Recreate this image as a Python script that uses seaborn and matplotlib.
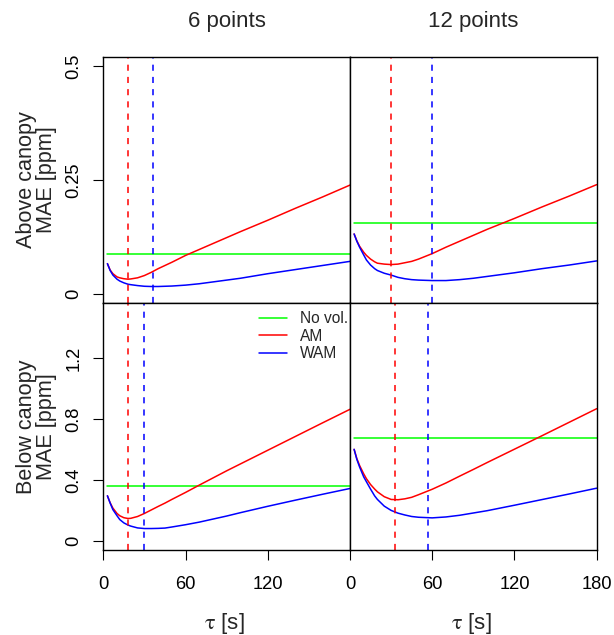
import matplotlib
matplotlib.use("Agg")
import matplotlib.pyplot as plt
from matplotlib.lines import Line2D
import numpy as np
import pandas as pd
import seaborn as sns

# ---------------- data ----------------
tau = [3, 5, 7, 10, 12, 15, 18, 20, 25, 30, 35, 40, 45, 50, 60, 70, 80, 90, 100, 120, 140, 160, 180]

# Above canopy, 6 points
above6_am = [0.067, 0.053, 0.045, 0.038, 0.036, 0.034, 0.033, 0.0335, 0.036, 0.041, 0.048, 0.056, 0.063,
             0.070, 0.085, 0.098, 0.111, 0.124, 0.137, 0.162, 0.188, 0.213, 0.239]
above6_wam = [0.067, 0.052, 0.042, 0.033, 0.029, 0.025, 0.022, 0.021, 0.019, 0.0175, 0.017, 0.017, 0.0175,
              0.018, 0.020, 0.023, 0.027, 0.031, 0.035, 0.045, 0.054, 0.063, 0.072]
above6_novol = 0.089
above6_opt = [18, 36]          # AM, WAM optimal tau

# Above canopy, 12 points
above12_am = [0.132, 0.117, 0.105, 0.092, 0.085, 0.077, 0.071, 0.068, 0.066, 0.065, 0.066, 0.069, 0.072,
              0.077, 0.089, 0.103, 0.116, 0.129, 0.142, 0.166, 0.191, 0.215, 0.240]
above12_wam = [0.132, 0.116, 0.103, 0.086, 0.075, 0.064, 0.056, 0.052, 0.046, 0.042, 0.037, 0.034, 0.032,
               0.031, 0.030, 0.030, 0.032, 0.035, 0.039, 0.047, 0.056, 0.064, 0.073]
above12_novol = 0.155
above12_opt = [30, 60]

# Below canopy, 6 points
below6_am = [0.296, 0.250, 0.215, 0.180, 0.165, 0.152, 0.147, 0.148, 0.160, 0.180, 0.203, 0.226, 0.248,
             0.272, 0.318, 0.366, 0.413, 0.460, 0.505, 0.595, 0.685, 0.775, 0.864]
below6_wam = [0.296, 0.248, 0.205, 0.165, 0.140, 0.118, 0.104, 0.097, 0.085, 0.081, 0.081, 0.082, 0.084,
              0.091, 0.106, 0.123, 0.143, 0.163, 0.185, 0.227, 0.267, 0.306, 0.344]
below6_novol = 0.361
below6_opt = [18, 30]

# Below canopy, 12 points
below12_am = [0.601, 0.540, 0.495, 0.440, 0.408, 0.370, 0.340, 0.322, 0.290, 0.272, 0.270, 0.276, 0.286,
              0.303, 0.339, 0.380, 0.425, 0.469, 0.514, 0.602, 0.690, 0.779, 0.868]
below12_wam = [0.601, 0.535, 0.485, 0.420, 0.388, 0.340, 0.295, 0.272, 0.228, 0.200, 0.182, 0.170, 0.160,
               0.155, 0.151, 0.157, 0.168, 0.183, 0.198, 0.234, 0.271, 0.308, 0.346]
below12_novol = 0.675
below12_opt = [33, 57]

col_titles = ["6 points", "12 points"]
row_titles = ["Above canopy\nMAE [ppm]", "Below canopy\nMAE [ppm]"]
methods = ["No vol.", "AM", "WAM"]
colors = {"No vol.": "#00FF00", "AM": "#FF0000", "WAM": "#0000FF"}

top_yticks = [0, 0.25, 0.5]
top_ylabels = ["0", "0.25", "0.5"]
bot_yticks = [0, 0.4, 0.8, 1.2]
bot_ylabels = ["0", "0.4", "0.8", "1.2"]
left_xticks = [0, 60, 120]
right_xticks = [0, 60, 120, 180]

panels = [
    [(above6_am, above6_wam, above6_novol, above6_opt), (above12_am, above12_wam, above12_novol, above12_opt)],
    [(below6_am, below6_wam, below6_novol, below6_opt), (below12_am, below12_wam, below12_novol, below12_opt)],
]

# ---------------- style ----------------
sns.set_style("white")
plt.rcParams["font.family"] = ["Liberation Sans", "DejaVu Sans"]
plt.rcParams["mathtext.fontset"] = "stix"

W, H = 614, 635
fig = plt.figure(figsize=(W / 100, H / 100), dpi=100)

def fx(px):
    return px / W

def fy(py):
    return 1 - py / H

xl = [103.3, 350.0]
wpx = 246.7
yt = [56.7, 303.3]
hpx = 246.7

ylims = [(-0.02, 0.52), (-0.06, 1.56)]

axes = [[None, None], [None, None]]
for r in range(2):
    for c in range(2):
        ax = fig.add_axes([fx(xl[c]), fy(yt[r] + hpx), wpx / W, hpx / H])
        axes[r][c] = ax
        am, wam, novol, opt = panels[r][c]
        df = pd.DataFrame({
            "tau": tau * 3,
            "mae": [novol] * len(tau) + list(am) + list(wam),
            "method": ["No vol."] * len(tau) + ["AM"] * len(tau) + ["WAM"] * len(tau),
        })
        sns.lineplot(data=df, x="tau", y="mae", hue="method", hue_order=methods,
                     palette=colors, estimator=None, sort=False, legend=False,
                     linewidth=1.1, ax=ax)
        ax.axvline(opt[0], color=colors["AM"], linestyle=(0, (4, 4)), linewidth=1.1)
        ax.axvline(opt[1], color=colors["WAM"], linestyle=(0, (4, 4)), linewidth=1.1)
        ax.set_xlim(0, 180)
        ax.set_ylim(*ylims[r])
        ax.set_xlabel("")
        ax.set_ylabel("")
        for sp in ax.spines.values():
            sp.set_visible(True)
            sp.set_color("black")
            sp.set_linewidth(1.0)
        ax.tick_params(direction="out", length=7.2, width=0.8, color="black",
                       labelsize=13.2, labelcolor="black")
        # y axis
        if c == 0:
            ax.set_yticks(top_yticks if r == 0 else bot_yticks)
            ax.set_yticklabels(top_ylabels if r == 0 else bot_ylabels, rotation=90, va="center")
            ax.tick_params(axis="y", pad=8, left=True)
        else:
            ax.set_yticks([])
        # x axis
        if r == 1:
            ax.set_xticks(left_xticks if c == 0 else right_xticks)
            ax.set_xticklabels([str(v) for v in (left_xticks if c == 0 else right_xticks)])
            ax.tick_params(axis="x", pad=11.5, bottom=True)
        else:
            ax.set_xticks([])

# Titles
for c, t in enumerate(col_titles):
    fig.text(fx(xl[c] + wpx / 2), fy(22), t, ha="center", va="center", fontsize=16)
# Row labels
for r, t in enumerate(row_titles):
    fig.text(fx(36.5), fy(yt[r] + hpx / 2), t, ha="center", va="center", rotation=90,
             fontsize=15.6, linespacing=0.98)
# x labels
for c in range(2):
    fig.text(fx(xl[c] + wpx / 2 - 2), fy(623), r"$\mathrm{\tau}$ [s]", ha="center", va="center",
             fontsize=16)

# Legend in bottom-left panel
handles = [Line2D([0], [0], color=colors[m], linewidth=1.1) for m in methods]
axes[1][0].legend(handles, methods, loc="upper left",
                  bbox_to_anchor=(fx(259), fy(311)), bbox_transform=fig.transFigure,
                  frameon=False, fontsize=11.2, handlelength=1.77, handletextpad=0.86,
                  labelspacing=0.17, borderpad=0, borderaxespad=0)

fig.savefig("out.png", dpi=100)
